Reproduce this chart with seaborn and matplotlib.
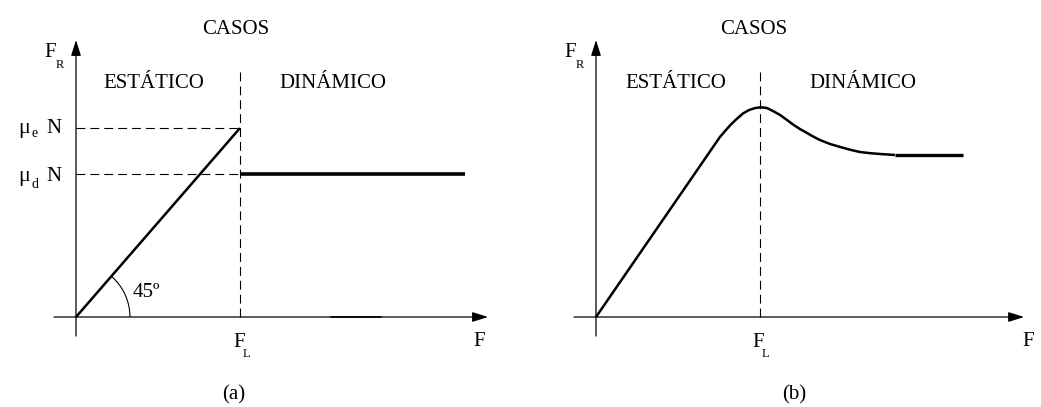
import matplotlib
matplotlib.use("Agg")
import matplotlib.pyplot as plt
from matplotlib.patches import Arc
import seaborn as sns

sns.set_theme(style="white")
plt.rcParams["font.family"] = ["Liberation Serif", "DejaVu Serif"]

# ---- Case (a): static friction rises to mu_e*N at F_L, then drops to mu_d*N ----
F_L = 1.0
MU_E_N = 1.152
MU_D_N = 0.872
static_F_a = [0.0, F_L]
static_R_a = [0.0, MU_E_N]
dynamic_F_a = [F_L, 2.372]
dynamic_R_a = [MU_D_N, MU_D_N]

# ---- Case (b): smooth peak at F_L, then decay to a constant kinetic value ----
curve_F_b = [0.000, 0.756, 0.787, 0.817, 0.854, 0.896, 0.933, 0.970, 1.006,
             1.043, 1.079, 1.122, 1.165, 1.201, 1.244, 1.287, 1.323, 1.366,
             1.427, 1.488, 1.549, 1.610, 1.671, 1.732, 1.823]
curve_R_b = [0.000, 1.098, 1.134, 1.168, 1.204, 1.241, 1.262, 1.274, 1.279,
             1.274, 1.256, 1.232, 1.201, 1.174, 1.146, 1.122, 1.101, 1.079,
             1.055, 1.037, 1.020, 1.006, 0.999, 0.994, 0.988]
flat_F_b = [1.823, 2.238]
flat_R_b = [0.988, 0.988]

TITLE = "CASOS"
REGIONS = ["ESTÁTICO", "DINÁMICO"]
PANEL_TAGS = ["(a)", "(b)"]

W, H = 1041, 407
UNIT = 164.0  # pixels per data unit, same on both axes
fig = plt.figure(figsize=(W / 100, H / 100), dpi=100)
fig.patch.set_facecolor("white")


def make_axes(left_px, width_px, origin_px):
    ax = fig.add_axes([left_px / W, 0, width_px / W, 1])
    ax.set_xlim(-(origin_px - left_px) / UNIT, (left_px + width_px - origin_px) / UNIT)
    ax.set_ylim(-(H - 317) / UNIT, 317 / UNIT)
    ax.axis("off")
    return ax


def arrow_axes(ax, x_end):
    style = "-|>,head_length=0.95,head_width=0.3"
    ax.annotate("", xy=(0, 1.689), xytext=(0, -0.116),
                arrowprops=dict(arrowstyle=style, color="black", lw=0.9,
                                shrinkA=0, shrinkB=0, mutation_scale=10))
    ax.annotate("", xy=(x_end, 0), xytext=(-0.134, 0),
                arrowprops=dict(arrowstyle=style, color="black", lw=0.9,
                                shrinkA=0, shrinkB=0, mutation_scale=10))


def txt(ax, x, y, s, size=15, ha="left", va="baseline"):
    ax.text(x, y, s, fontsize=size, ha=ha, va=va, color="black")


def common_labels(ax, casos_x, est_x, din_x, fl_x, f_x, tag_x, tag):
    txt(ax, casos_x, 1.756, TITLE, ha="center", va="center")
    txt(ax, -0.195, 1.585, "F")
    txt(ax, -0.122, 1.518, "R", size=9)
    txt(ax, est_x, 1.421, REGIONS[0], ha="center", va="center")
    txt(ax, din_x, 1.421, REGIONS[1], ha="center", va="center")
    txt(ax, fl_x, -0.183, "F")
    txt(ax, fl_x + 0.061, -0.244, "L", size=9)
    txt(ax, f_x, -0.177, "F", ha="center")
    txt(ax, tag_x, -0.476, tag, ha="center", va="center")
    # boundary between static and dynamic regimes
    ax.plot([F_L, F_L], [0, 1.524], color="black", lw=0.8, ls=(0, (8, 4.5)))


dash = (0, (8, 4.5))
line_kw = dict(color="black", estimator=None, sort=False,
               solid_joinstyle="round", solid_capstyle="butt")

# ---------------- panel (a) ----------------
ax_a = make_axes(0, 520, 76)
arrow_axes(ax_a, 2.512)
ax_a.plot([1.555, 1.860], [0, 0], color="black", lw=1.2)
sns.lineplot(x=static_F_a, y=static_R_a, ax=ax_a, lw=1.8, **line_kw)
sns.lineplot(x=dynamic_F_a, y=dynamic_R_a, ax=ax_a, lw=2.6, **line_kw)
ax_a.plot([0, F_L], [MU_E_N, MU_E_N], color="black", lw=0.8, ls=dash)
ax_a.plot([0, F_L], [MU_D_N, MU_D_N], color="black", lw=0.8, ls=dash)
common_labels(ax_a, 0.976, 0.476, 1.567, 0.957, 2.457, 0.963, PANEL_TAGS[0])

# friction level labels on the vertical axis
txt(ax_a, -0.352, 1.122, "μ", size=16)
txt(ax_a, -0.270, 1.098, "e", size=10)
txt(ax_a, -0.183, 1.122, "N")
txt(ax_a, -0.352, 0.829, "μ", size=16)
txt(ax_a, -0.270, 0.787, "d", size=10)
txt(ax_a, -0.183, 0.829, "N")

# 45 degree angle marker
ax_a.add_patch(Arc((0, 0), 2 * 0.329, 2 * 0.329, theta1=0, theta2=49,
                   color="black", lw=0.8))
txt(ax_a, 0.348, 0.122, "45º")

# ---------------- panel (b) ----------------
ax_b = make_axes(520, 521, 596)
arrow_axes(ax_b, 2.610)
sns.lineplot(x=curve_F_b, y=curve_R_b, ax=ax_b, lw=1.8, **line_kw)
sns.lineplot(x=flat_F_b, y=flat_R_b, ax=ax_b, lw=2.4, **line_kw)
common_labels(ax_b, 0.963, 0.488, 1.628, 0.951, 2.634, 1.207, PANEL_TAGS[1])

for ax in (ax_a, ax_b):
    leg = ax.get_legend()
    if leg is not None:
        leg.remove()

fig.savefig("out.png", dpi=100, facecolor="white")
